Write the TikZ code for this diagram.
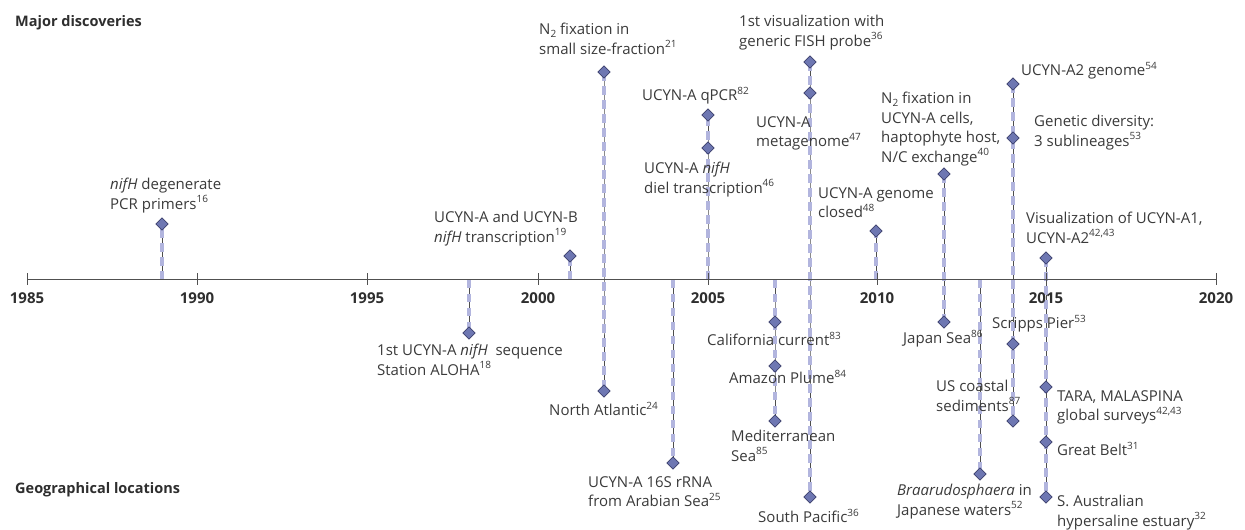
\documentclass[tikz,border=0pt]{standalone}
\usepackage{fontspec}
\setmainfont{Open Sans}
\usetikzlibrary{shapes.geometric}
\pgfdeclarelayer{background}
\pgfsetlayers{background,main}
\definecolor{lav}{HTML}{B2B5DE}
\definecolor{dkb}{HTML}{3C416E}
\definecolor{mdb}{HTML}{6E77B2}
\definecolor{txt}{HTML}{3A3A3A}
\definecolor{axc}{HTML}{505050}
\newcommand\sref[1]{\raisebox{0.42em}{\fontsize{10}{10}\selectfont #1}}
\newcommand\sbot[1]{\raisebox{-0.2em}{\fontsize{10}{10}\selectfont #1}}
\begin{document}
\begin{tikzpicture}[x=1pt,y=-1pt,
  lbl/.style={font=\fontsize{15}{19.5}\selectfont, text=txt, align=left, inner sep=0pt, anchor=north west},
  hdr/.style={font=\fontsize{14.5}{17}\selectfont\bfseries, text=txt!80!black, inner sep=0pt, anchor=north west},
  yrlbl/.style={font=\fontsize{15}{17}\selectfont\bfseries, text=txt!80!black, inner sep=0pt, anchor=north},
  dia/.style={diamond, draw=dkb, fill=mdb, line width=0.8pt, minimum size=12.5pt, inner sep=0pt},
  stem/.style={draw=black!70, line width=0.7pt,
    postaction={draw=lav, line width=4.5pt, dash pattern=on 8.5pt off 5.5pt}},
  axisline/.style={draw=axc, line width=0.9pt}
]
\useasboundingbox (0,0) rectangle (1245,530);

% headers
\node[hdr] (h1) at (15,15) {Major discoveries};
\node[hdr] (h2) at (15,482) {Geographical locations};

% axis
\coordinate (ax0) at (27,279.5);
\coordinate (ax1) at (1216,279.5);
\draw[axisline] (ax0) -- (ax1);
\foreach \yr/\x in {1985/27,1990/197,1995/367,2000/538,2005/708,2010/877,2015/1046,2020/1216}{
  \coordinate (t\yr) at (\x,279.5);
  \draw[axisline] (\x,273) -- (\x,285);
  \node[yrlbl] (y\yr) at (\x,292) {\yr};
}

% stem points on axis
\foreach \n/\x in {1989/162,1998/469,2001/570,2002/604,2004/673,2005/708,2007/775,2008/810,2010/876,2012/944,2013/980,2014/1013,2015/1046}{
  \coordinate (s\n) at (\x,279.5);
}

% diamonds
\node[dia] (d1989)  at (162,224) {};
\node[dia] (d1998)  at (469,333) {};
\node[dia] (d2001)  at (570,256) {};
\node[dia] (d2002a) at (604,72) {};
\node[dia] (d2002b) at (604,391) {};
\node[dia] (d2004)  at (673,463) {};
\node[dia] (d2005a) at (708,115) {};
\node[dia] (d2005b) at (708,148) {};
\node[dia] (d2007a) at (775,322) {};
\node[dia] (d2007b) at (775,366) {};
\node[dia] (d2007c) at (775,421) {};
\node[dia] (d2008a) at (810,62) {};
\node[dia] (d2008b) at (810,93) {};
\node[dia] (d2008c) at (810,497) {};
\node[dia] (d2010)  at (876,231) {};
\node[dia] (d2012a) at (944,174) {};
\node[dia] (d2012b) at (944,322) {};
\node[dia] (d2013)  at (980,474) {};
\node[dia] (d2014a) at (1013,84) {};
\node[dia] (d2014b) at (1013,138) {};
\node[dia] (d2014c) at (1013,344) {};
\node[dia] (d2014d) at (1013,421) {};
\node[dia] (d2015a) at (1046,258) {};
\node[dia] (d2015b) at (1046,387) {};
\node[dia] (d2015c) at (1046,442) {};
\node[dia] (d2015d) at (1046,497) {};

% stems
\begin{pgfonlayer}{background}
\draw[stem] (s1989) -- (d1989.center);
\draw[stem] (s1998) -- (d1998.center);
\draw[stem] (s2001) -- (d2001.center);
\draw[stem] (d2002a.center) -- (s2002) -- (d2002b.center);
\draw[stem] (s2004) -- (d2004.center);
\draw[stem] (s2005) -- (d2005b.center) -- (d2005a.center);
\draw[stem] (s2007) -- (d2007a.center) -- (d2007b.center) -- (d2007c.center);
\draw[stem] (d2008a.center) -- (d2008b.center) -- (s2008) -- (d2008c.center);
\draw[stem] (s2010) -- (d2010.center);
\draw[stem] (d2012a.center) -- (s2012) -- (d2012b.center);
\draw[stem] (s2013) -- (d2013.center);
\draw[stem] (d2014a.center) -- (d2014b.center) -- (s2014) -- (d2014c.center) -- (d2014d.center);
\draw[stem] (d2015a.center) -- (s2015) -- (d2015b.center) -- (d2015c.center) -- (d2015d.center);
\end{pgfonlayer}

% labels
\node[lbl] (l1) at (110,178) {\textit{nifH} degenerate\\PCR primers\sref{16}};
\node[lbl] (l2) at (377,344) {1st UCYN-A \textit{nifH}\ \ sequence\\Station ALOHA\sref{18}};
\node[lbl] (l3) at (434,211) {UCYN-A and UCYN-B\\\textit{nifH} transcription\sref{19}};
\node[lbl] (l4) at (539,23) {N\sbot{2} fixation in\\small size-fraction\sref{21}};
\node[lbl] (l5) at (549,402) {North Atlantic\sref{24}};
\node[lbl] (l6) at (588,476) {UCYN-A 16S rRNA\\from Arabian Sea\sref{25}};
\node[lbl] (l7) at (642,87) {UCYN-A qPCR\sref{82}};
\node[lbl] (l8) at (644,162) {UCYN-A \textit{nifH}\\diel transcription\sref{46}};
\node[lbl] (l9) at (707,332) {California current\sref{83}};
\node[lbl] (l10) at (729,370) {Amazon Plume\sref{84}};
\node[lbl] (l11) at (731,430) {Mediterranean\\Sea\sref{85}};
\node[lbl] (l12) at (758,509) {South Pacific\sref{36}};
\node[lbl] (l13) at (739,15) {1st visualization with\\generic FISH probe\sref{36}};
\node[lbl] (l14) at (756,116) {UCYN-A\\metagenome\sref{47}};
\node[lbl] (l15) at (818,187) {UCYN-A genome\\closed\sref{48}};
\node[lbl] (l16) at (881,92) {N\sbot{2} fixation in\\UCYN-A cells,\\haptophyte host,\\N/C exchange\sref{40}};
\node[lbl] (l17) at (903,330) {Japan Sea\sref{86}};
\node[lbl] (l18) at (897,484) {\textit{Braarudosphaera} in\\Japanese waters\sref{52}};
\node[lbl] (l19) at (1021,62) {UCYN-A2 genome\sref{54}};
\node[lbl] (l20) at (1034,115) {Genetic diversity:\\3 sublineages\sref{53}};
\node[lbl] (l21) at (992,315) {Scripps Pier\sref{53}};
\node[lbl] (l22) at (936,380) {US coastal\\sediments\sref{87}};
\node[lbl] (l23) at (1026,212) {Visualization of UCYN-A1,\\UCYN-A2\sref{42,43}};
\node[lbl] (l24) at (1057,390) {TARA, MALASPINA\\global surveys\sref{42,43}};
\node[lbl] (l25) at (1057,442) {Great Belt\sref{31}};
\node[lbl] (l26) at (1057,495) {S. Australian\\hypersaline estuary\sref{32}};
\end{tikzpicture}
\end{document}
